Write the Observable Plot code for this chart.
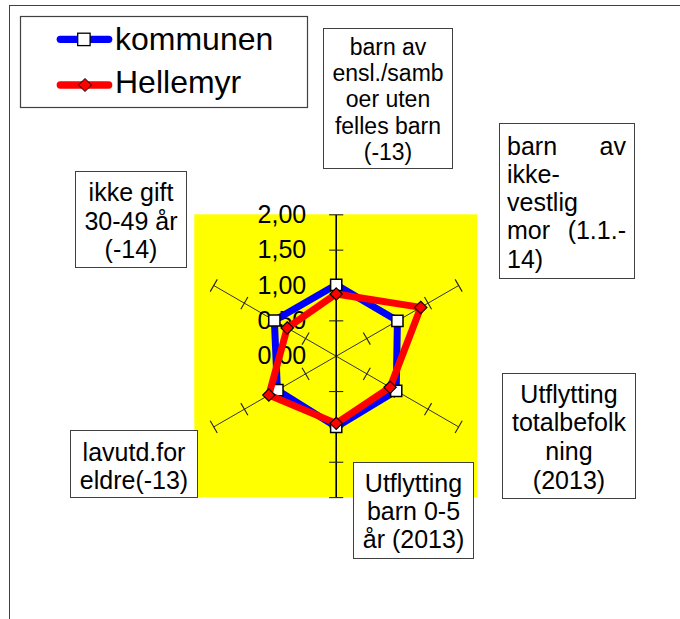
<!DOCTYPE html>
<html><head><meta charset="utf-8">
<script src="https://cdn.jsdelivr.net/npm/d3@7"></script>
<script src="https://cdn.jsdelivr.net/npm/@observablehq/plot@0.6"></script>
<style>
body{margin:0;background:#fff;font-family:"Liberation Sans",Arial,sans-serif;}
#wrap{position:relative;width:680px;height:619px;overflow:hidden;background:#fff;}
.box{position:absolute;box-sizing:border-box;border:1px solid #404040;background:#fff;color:#000;text-align:center;white-space:nowrap;font-family:"Liberation Sans",Arial,sans-serif;}
.box div.j{text-align:left;text-align-last:justify;}
.frame{position:absolute;left:9px;top:5px;width:800px;height:800px;border-left:1.5px solid #404040;border-top:1.5px solid #404040;}
#legend{position:absolute;left:0;top:0;}
</style></head>
<body>
<div id="wrap"><div class="frame"></div></div>
<script>
// ---- data ----
const categories = [
  "barn av ensl./samboer uten felles barn (-13)",
  "barn av ikke-vestlig mor (1.1.-14)",
  "Utflytting totalbefolkning (2013)",
  "Utflytting barn 0-5 år (2013)",
  "lavutd.for eldre(-13)",
  "ikke gift 30-49 år (-14)"
];
const categoryLines = [
  ["barn av", "ensl./samb", "oer uten", "felles barn", "(-13)"],
  ["barn av", "ikke-", "vestlig", "mor (1.1.-", "14)"],
  ["Utflytting", "totalbefolk", "ning", "(2013)"],
  ["Utflytting", "barn 0-5", "år (2013)"],
  ["lavutd.for", "eldre(-13)"],
  ["ikke gift", "30-49 år", "(-14)"]
];
const seriesNames = ["kommunen", "Hellemyr"];
const kommunen = [1.01, 1.00, 0.98, 1.00, 0.96, 1.01];
const hellemyr = [0.88, 1.38, 0.88, 0.95, 1.10, 0.80];
const tickValues = [0, 0.5, 1, 1.5, 2];
const tickLabels = ["0,00", "0,50", "1,00", "1,50", "2,00"];

// ---- layout ----
const W = 680, H = 619, K = 70.7, CX = 335.7, CY = 355.7;
const rMax = tickValues[tickValues.length - 1];
const ang = i => i * 2 * Math.PI / categories.length;
const toXY = (v, i) => ({x: v * Math.sin(ang(i)), y: v * Math.cos(ang(i))});

const kPts = kommunen.map((v, i) => ({...toXY(v, i), cat: categories[i]}));
const hPts = hellemyr.map((v, i) => ({...toXY(v, i), cat: categories[i]}));
const spokes = categories.map((c, i) => ({x1: 0, y1: 0, ...(({x, y}) => ({x2: x, y2: y}))(toXY(rMax, i)), vertical: i % 3 === 0}));
const tickHalf = 0.1;
const spokeTicks = [];
categories.forEach((c, i) => {
  tickValues.filter(t => t > 0).forEach(t => {
    const p = toXY(t, i), a = ang(i);
    spokeTicks.push({x1: p.x - tickHalf * Math.cos(a), y1: p.y + tickHalf * Math.sin(a),
                     x2: p.x + tickHalf * Math.cos(a), y2: p.y - tickHalf * Math.sin(a)});
  });
});
const tickData = tickValues.map((v, j) => ({x: 0, y: v, label: tickLabels[j]}));

const diamond = {draw(ctx, size) { const r = Math.sqrt(size / 2); ctx.moveTo(0, -r); ctx.lineTo(r, 0); ctx.lineTo(0, r); ctx.lineTo(-r, 0); ctx.closePath(); }};

const chart = Plot.plot({
  width: W, height: H,
  margin: 0,
  style: "position:absolute;left:0;top:0;background:transparent;overflow:visible;",
  x: {domain: [-CX / K, (W - CX) / K], range: [0, W], axis: null},
  y: {domain: [-(H - CY) / K, CY / K], range: [H, 0], axis: null},
  marks: [
    Plot.rect([{x1: -rMax, x2: rMax, y1: -rMax, y2: rMax}], {x1: "x1", x2: "x2", y1: "y1", y2: "y2", fill: "#ffff00"}),
    Plot.link(spokes.filter(d => !d.vertical), {x1: "x1", y1: "y1", x2: "x2", y2: "y2", stroke: "#333", strokeWidth: 1}),
    Plot.link(spokes.filter(d => d.vertical), {x1: "x1", y1: "y1", x2: "x2", y2: "y2", stroke: "#000", strokeWidth: 1.6}),
    Plot.link(spokeTicks, {x1: "x1", y1: "y1", x2: "x2", y2: "y2", stroke: "#222", strokeWidth: 1.1}),
    Plot.text(tickData, {x: "x", y: "y", text: "label", textAnchor: "end", dx: -30, fontSize: 25, fill: "#000", fontFamily: "Liberation Sans, Arial, sans-serif"}),
    Plot.line(kPts, {x: "x", y: "y", stroke: "#0000ff", strokeWidth: 7, curve: "linear-closed"}),
    Plot.dot(kPts, {x: "x", y: "y", symbol: "square", r: 6.3, fill: "#fff", stroke: "#000", strokeWidth: 1.5}),
    Plot.line(hPts, {x: "x", y: "y", stroke: "#ff0000", strokeWidth: 7, curve: "linear-closed"}),
    Plot.dot(hPts, {x: "x", y: "y", symbol: diamond, r: 4.9, fill: "#ff0000", stroke: "#000", strokeWidth: 1.2})
  ]
});
const wrap = document.getElementById("wrap");
wrap.appendChild(chart);

// category label boxes
const boxLayout = [
  {left: 323, top: 28, w: 130, h: 141, fs: 23, lh: 26.2, pt: 5, align: "center"},
  {left: 499, top: 123, w: 136, h: 156, fs: 25, lh: 28.3, pt: 7.5, align: "left", pl: 7, pr: 8, justify: [0, 3]},
  {left: 502, top: 373, w: 134, h: 126, fs: 25, lh: 28.9, pt: 5.5, align: "center"},
  {left: 353, top: 462, w: 121, h: 97, fs: 25, lh: 27.9, pt: 7, align: "center"},
  {left: 70, top: 430, w: 128, h: 68, fs: 25, lh: 28.3, pt: 7, align: "center"},
  {left: 75, top: 171, w: 112, h: 97, fs: 25, lh: 28.3, pt: 6.3, align: "center"}
];
categoryLines.forEach((lines, i) => {
  const L = boxLayout[i];
  const b = document.createElement("div");
  b.className = "box";
  b.title = categories[i];
  Object.assign(b.style, {left: L.left + "px", top: L.top + "px", width: L.w + "px", height: L.h + "px",
    fontSize: L.fs + "px", lineHeight: L.lh + "px", paddingTop: L.pt + "px",
    paddingLeft: (L.pl || 0) + "px", paddingRight: (L.pr || 0) + "px", textAlign: L.align});
  lines.forEach((t, j) => {
    const d = document.createElement("div");
    d.textContent = t;
    if (L.justify && L.justify.includes(j)) d.className = "j";
    b.appendChild(d);
  });
  wrap.appendChild(b);
});

// legend
const ns = "http://www.w3.org/2000/svg";
const lg = document.createElementNS(ns, "svg");
lg.setAttribute("id", "legend");
lg.setAttribute("width", 320); lg.setAttribute("height", 120);
lg.innerHTML = `
<rect x="20.5" y="16.5" width="287" height="91" fill="#fff" stroke="#404040" stroke-width="1.2"/>
<line x1="60.3" x2="108.7" y1="39.3" y2="39.3" stroke="#0000ff" stroke-width="7.3" stroke-linecap="round"/>
<rect x="77.7" y="33.2" width="12.4" height="12.4" fill="#fff" stroke="#000" stroke-width="1.3"/>
<text x="115" y="50" font-size="32" font-family="Liberation Sans, Arial, sans-serif" fill="#000">${seriesNames[0]}</text>
<line x1="60.3" x2="108.7" y1="85" y2="85" stroke="#ff0000" stroke-width="7.3" stroke-linecap="round"/>
<path d="M85,78.5 L91.5,85 L85,91.5 L78.5,85 Z" fill="#ff0000" stroke="#000" stroke-width="1"/>
<text x="115" y="93.3" font-size="32" font-family="Liberation Sans, Arial, sans-serif" fill="#000">${seriesNames[1]}</text>`;
wrap.appendChild(lg);
</script>
</body></html>
